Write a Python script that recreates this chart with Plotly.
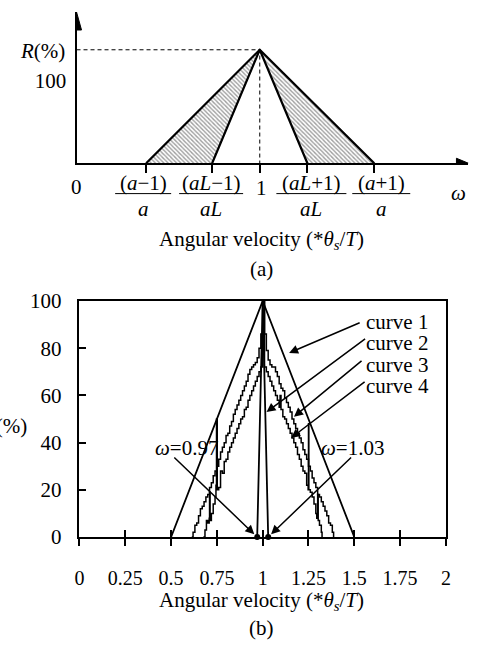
import plotly.graph_objects as go

FONT = "Liberation Serif, Times New Roman, serif"
W, H = 495, 656

# ---------------- (a) schematic resonance band ----------------
schem_x = [0.38, 0.74, 1.0, 1.26, 1.625]      # (a-1)/a, (aL-1)/aL, 1, (aL+1)/aL, (a+1)/a
schem_peak = 137                                # R(%) at the peak
schem_ref = 100                                 # reference level label
schem_num = ["(<i>a</i>−1)", "(<i>aL</i>−1)", "1", "(<i>aL</i>+1)", "(<i>a</i>+1)"]
schem_den = ["<i>a</i>", "<i>aL</i>", None, "<i>aL</i>", "<i>a</i>"]
schem_shift = [-3, -1, 2, 4, 7]                 # label x offsets (px)
schem_bar = [56, 64, 0, 70, 58]                 # fraction bar widths (px)
schem_xmax = 2.139
schem_ymax = 182.6

# ---------------- (b) simulated resonance curves ----------------
tick_vals = [0, 0.25, 0.5, 0.75, 1, 1.25, 1.5, 1.75, 2]
tick_text = ["0", "0.25", "0.5", "0.75", "1", "1.25", "1.5", "1.75", "2"]

curve1_x = [0.5, 1.0, 1.5]
curve1_y = [0, 100, 0]

curve2_x = [0.97, 1.0, 1.03]
curve2_y = [0, 100, 0]

curve3_x = [0.613, 0.62, 0.63, 0.64, 0.65, 0.66, 0.67, 0.68, 0.69, 0.70,
            0.71, 0.72, 0.73, 0.74, 0.75, 0.76, 0.77, 0.78, 0.79, 0.80,
            0.81, 0.82, 0.83, 0.84, 0.85, 0.86, 0.87, 0.88, 0.89, 0.90,
            0.91, 0.92, 0.93, 0.94, 0.95, 0.96, 0.97, 0.98, 0.99, 1.0,
            1.01, 1.02, 1.03, 1.04, 1.05, 1.06, 1.07, 1.08, 1.09, 1.10,
            1.11, 1.12, 1.13, 1.14, 1.15, 1.16, 1.17, 1.18, 1.19, 1.20,
            1.21, 1.22, 1.23, 1.24, 1.25, 1.26, 1.27, 1.28, 1.29, 1.30,
            1.31, 1.32, 1.33, 1.34, 1.35, 1.36, 1.37, 1.38, 1.387]
curve3_y = [0, 2, 5, 6, 9, 12, 13, 15, 17, 18,
            21, 23, 26, 28, 30, 33, 36, 38, 40, 43,
            44, 47, 49, 52, 54, 56, 58, 60, 62, 64,
            66, 69, 71, 72, 73, 74, 76, 80, 86, 100,
            86, 79, 75, 73, 72, 72, 70, 68, 65, 63,
            62, 59, 57, 55, 53, 50, 48, 46, 44, 42,
            40, 37, 35, 33, 30, 28, 25, 23, 21, 18,
            17, 15, 13, 11, 9, 6, 5, 2, 0]

curve4_x = [0.676, 0.685, 0.693, 0.70, 0.708, 0.71, 0.713, 0.72, 0.73, 0.74,
            0.745, 0.748, 0.752, 0.76, 0.77, 0.78, 0.79, 0.80, 0.81, 0.82,
            0.83, 0.84, 0.85, 0.86, 0.87, 0.88, 0.89, 0.90, 0.91, 0.92,
            0.93, 0.94, 0.95, 0.96, 0.97, 0.98, 0.99, 1.0,
            1.01, 1.02, 1.03, 1.04, 1.05, 1.06, 1.07, 1.08, 1.09, 1.095,
            1.10, 1.11, 1.12, 1.13, 1.14, 1.15, 1.16, 1.17, 1.18, 1.19,
            1.20, 1.21, 1.22, 1.23, 1.24, 1.248, 1.25, 1.252, 1.26, 1.27,
            1.28, 1.29, 1.295, 1.30, 1.303, 1.31, 1.32, 1.324]
curve4_y = [0, 3, 7, 6, 8, 19, 7, 10, 14, 17,
            22, 50, 20, 21, 28, 27, 32, 33, 36, 38,
            40, 42, 44, 46, 48, 50, 51, 54, 55, 58,
            60, 62, 64, 66, 68, 70, 72, 100,
            72, 70, 68, 66, 64, 62, 60, 58, 55, 60,
            54, 51, 50, 48, 46, 44, 42, 40, 38, 35,
            33, 30, 28, 27, 22, 20, 48, 20, 19, 17,
            14, 10, 8, 18, 7, 5, 2, 0]

marker_x = [0.97, 1.03]
marker_y = [0, 0]

fig = go.Figure()

# ---- (a) traces ----
hatch = dict(shape="\\", fgcolor="#3c3c3c", bgcolor="white", size=3, solidity=0.45)
fig.add_trace(go.Scatter(
    x=[schem_x[0], schem_x[2], schem_x[1], schem_x[0]],
    y=[0, schem_peak, 0, 0], fill="toself", fillpattern=hatch,
    fillcolor="white", line=dict(width=0), mode="lines",
    xaxis="x2", yaxis="y2", hoverinfo="skip"))
fig.add_trace(go.Scatter(
    x=[schem_x[3], schem_x[2], schem_x[4], schem_x[3]],
    y=[0, schem_peak, 0, 0], fill="toself", fillpattern=hatch,
    fillcolor="white", line=dict(width=0), mode="lines",
    xaxis="x2", yaxis="y2", hoverinfo="skip"))
fig.add_trace(go.Scatter(
    x=[0, schem_x[2], schem_x[2]], y=[schem_peak, schem_peak, 0],
    mode="lines", line=dict(color="black", width=1, dash="4px,3px"),
    xaxis="x2", yaxis="y2"))
fig.add_trace(go.Scatter(
    x=[schem_x[0], schem_x[2], schem_x[4]], y=[0, schem_peak, 0],
    mode="lines", line=dict(color="black", width=2.2), xaxis="x2", yaxis="y2"))
fig.add_trace(go.Scatter(
    x=[schem_x[1], schem_x[2], schem_x[3]], y=[0, schem_peak, 0],
    mode="lines", line=dict(color="black", width=2.2), xaxis="x2", yaxis="y2"))

# ---- (b) traces ----
line_b = dict(color="black", width=1.8)
fig.add_trace(go.Scatter(x=curve1_x, y=curve1_y, mode="lines", line=line_b))
fig.add_trace(go.Scatter(x=curve3_x, y=curve3_y, mode="lines",
                         line=dict(color="black", width=1.5, shape="hv")))
fig.add_trace(go.Scatter(x=curve4_x, y=curve4_y, mode="lines",
                         line=dict(color="black", width=1.5, shape="hv")))
fig.add_trace(go.Scatter(x=curve2_x, y=curve2_y, mode="lines", line=line_b))
fig.add_trace(go.Scatter(x=marker_x, y=marker_y, mode="markers",
                         marker=dict(color="black", size=6), cliponaxis=False))
# carrier for the upper half of the crossing x ticks
fig.add_trace(go.Scatter(x=[None], y=[None], xaxis="x3", yaxis="y"))

def px_x(p):
    return p / W

def px_y(p):
    return 1 - p / H

tfont = dict(family=FONT, size=21, color="black")
tickfont_b = dict(family=FONT, size=20, color="black")

annotations = []
shapes = []

# fraction labels under the schematic axis
for xv, num, den, sh, bw in zip(schem_x, schem_num, schem_den, schem_shift, schem_bar):
    if den is None:
        annotations.append(dict(x=xv, y=px_y(183), xref="x2", yref="paper",
                                text=num, showarrow=False, xshift=sh,
                                font=tfont, yanchor="middle"))
        continue
    annotations.append(dict(x=xv, y=px_y(177), xref="x2", yref="paper",
                            text=num, showarrow=False, xshift=sh,
                            font=tfont, yanchor="middle"))
    annotations.append(dict(x=xv, y=px_y(204), xref="x2", yref="paper",
                            text=den, showarrow=False, xshift=sh,
                            font=tfont, yanchor="middle"))
    shapes.append(dict(type="line", xref="x2", yref="paper", xsizemode="pixel",
                       xanchor=xv, x0=-bw / 2 + sh, x1=bw / 2 + sh,
                       y0=px_y(188.5), y1=px_y(188.5),
                       line=dict(color="black", width=1)))

annotations += [
    dict(x=0, y=px_y(182), xref="x2", yref="paper", text="0",
         showarrow=False, font=tfont, yanchor="middle"),
    dict(x=px_x(473), y=px_y(188), xref="paper", yref="paper", text="<i>ω</i>",
         showarrow=False, font=tfont, yanchor="middle"),
    dict(x=px_x(63), y=px_y(40), xref="paper", yref="paper", text="<i>R</i>(%)",
         showarrow=False, font=tfont, xanchor="right", yanchor="middle"),
    dict(x=px_x(262), y=px_y(237), xref="paper", yref="paper",
         text="Angular velocity (*<i>θ<sub>s</sub></i>/<i>T</i>)",
         showarrow=False, font=tfont, yanchor="middle"),
    dict(x=px_x(262), y=px_y(267), xref="paper", yref="paper", text="(a)",
         showarrow=False, font=tfont, yanchor="middle"),
    dict(x=px_x(262), y=px_y(611), xref="paper", yref="paper",
         text="Angular velocity (*<i>θ<sub>s</sub></i>/<i>T</i>)",
         showarrow=False, font=tfont, yanchor="middle"),
    dict(x=px_x(262), y=px_y(639), xref="paper", yref="paper", text="(b)",
         showarrow=False, font=tfont, yanchor="middle"),
    dict(x=px_x(25), y=px_y(430), xref="paper", yref="paper", text="<i>R</i>(%)",
         showarrow=False, font=tfont, xanchor="right", yanchor="middle"),
]

# curve labels and pointer arrows
curve_labels = ["curve 1", "curve 2", "curve 3", "curve 4"]
label_py = [322, 344, 366, 388]
tip_x = [1.144, 1.021, 1.171, 1.155]
tip_y = [78, 53, 51, 42]
tail_px = [(362, 323), (367, 341), (364, 363), (367, 385)]
for lab, lpy in zip(curve_labels, label_py):
    annotations.append(dict(x=px_x(366), y=px_y(lpy), xref="paper", yref="paper",
                            text=lab, showarrow=False, font=tfont, height=20,
                            valign="middle", xanchor="left", yanchor="middle"))

x0b, x1b, y0b, y1b = 76, 450, 545, 300
def data_to_px(xv, yv):
    return (x0b + xv / 2 * (x1b - x0b), y0b - yv / 100 * (y0b - y1b))

arrow_style = dict(showarrow=True, arrowhead=2, arrowsize=1.2, arrowwidth=1.5,
                   arrowcolor="black", text="", font=tfont)
for tx, ty, (tpx, tpy) in zip(tip_x, tip_y, tail_px):
    hx, hy = data_to_px(tx, ty)
    annotations.append(dict(x=tx, y=ty, xref="x", yref="y",
                            ax=tpx - hx, ay=tpy - hy, **arrow_style))

omega_labels = ["<i>ω</i>=0.97", "<i>ω</i>=1.03"]
omega_center = [151, 389]
omega_tail = [(173, 464), (353, 464)]
for lab, cx, mx, my, (tpx, tpy) in zip(omega_labels, omega_center, marker_x,
                                       marker_y, omega_tail):
    annotations.append(dict(x=px_x(cx), y=px_y(453), xref="paper", yref="paper",
                            text=lab, showarrow=False, font=tfont, yanchor="middle"))
    hx, hy = data_to_px(mx, my)
    annotations.append(dict(x=mx, y=my, xref="x", yref="y",
                            ax=tpx - hx, ay=tpy - hy, standoff=4, **arrow_style))

# axis arrowheads of the schematic
shapes += [
    dict(type="path", xref="x2", yref="y2", xsizemode="pixel", ysizemode="pixel",
         xanchor=schem_xmax, yanchor=0, path="M-12,5 L0,0 L-12,-5 Z",
         fillcolor="black", line=dict(color="black", width=1)),
    dict(type="path", xref="x2", yref="y2", xsizemode="pixel", ysizemode="pixel",
         xanchor=0, yanchor=schem_ymax, path="M-5,-18 L0,0 L5,-18 Z",
         fillcolor="black", line=dict(color="black", width=1)),
]

fig.update_layout(
    width=W, height=H, margin=dict(l=0, r=0, t=0, b=0),
    paper_bgcolor="white", plot_bgcolor="white", showlegend=False,
    font=tfont,
    xaxis=dict(domain=[px_x(x0b), px_x(x1b)], range=[0, 2], anchor="y",
               tickvals=tick_vals, ticktext=tick_text, ticks="outside",
               ticklen=7, tickwidth=1.5, tickcolor="black",
               showline=True, linecolor="black", linewidth=1.5, mirror=True,
               showgrid=False, zeroline=False, tickfont=tickfont_b,
               ticklabelstandoff=15),
    xaxis3=dict(overlaying="x", anchor="y", range=[0, 2], tickvals=tick_vals,
                ticks="inside", ticklen=7, tickwidth=1.5, tickcolor="black",
                showticklabels=False, showline=False, showgrid=False,
                zeroline=False),
    yaxis=dict(domain=[px_y(y0b), px_y(y1b)], range=[0, 100], anchor="x",
               tickvals=[0, 20, 40, 60, 80, 100], ticks="inside", ticklen=7,
               tickwidth=1.5, tickcolor="black", showline=True,
               linecolor="black", linewidth=1.5, mirror=True, showgrid=False,
               zeroline=False, tickfont=tfont, ticklabelstandoff=12),
    xaxis2=dict(domain=[px_x(73), px_x(473)], range=[0, schem_xmax], anchor="y2",
                tickvals=schem_x, ticks="outside", ticklen=8, tickwidth=2,
                tickcolor="black", showticklabels=False, showline=True,
                linecolor="black", linewidth=2, showgrid=False, zeroline=False),
    yaxis2=dict(domain=[px_y(157), 1], range=[0, schem_ymax], anchor="x2",
                tickvals=[schem_ref], ticktext=[str(schem_ref)], ticks="",
                showline=True, linecolor="black", linewidth=2, showgrid=False,
                zeroline=False, tickfont=tfont, ticklabelstandoff=4),
    annotations=annotations, shapes=shapes,
)

fig.write_html("out.html")
